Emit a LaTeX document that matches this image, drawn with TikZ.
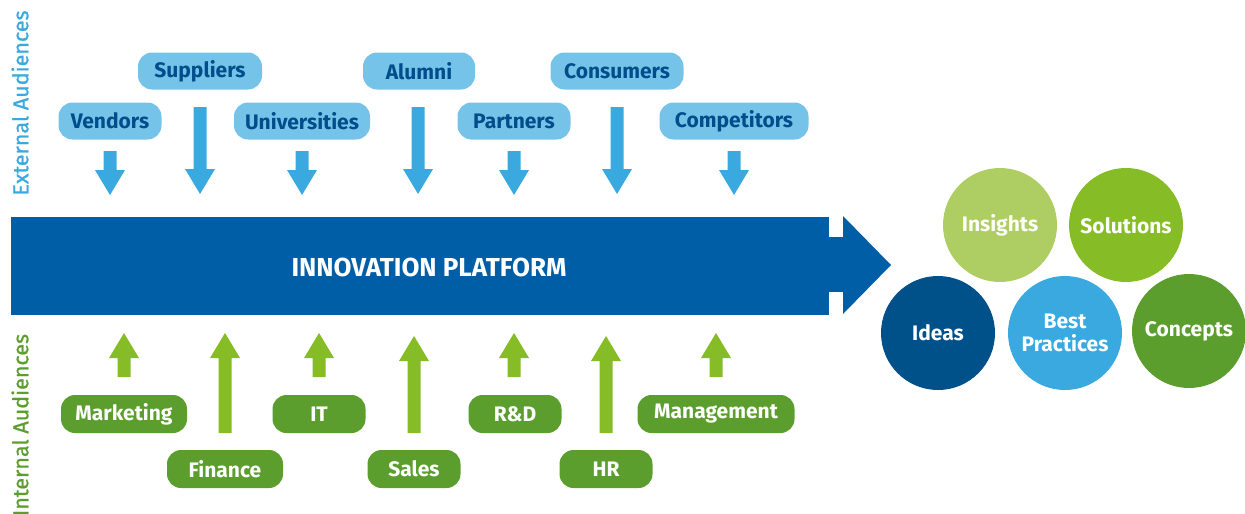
\documentclass[tikz,border=0pt]{standalone}
\usepackage{fontspec}
\setmainfont{Fira Sans}
\newfontfamily\sidefont[FakeBold=0.9]{Fira Sans}
\definecolor{extfill}{RGB}{118,195,234}
\definecolor{exttext}{RGB}{0,77,140}
\definecolor{arrblue}{RGB}{57,169,223}
\definecolor{bandblue}{RGB}{0,94,166}
\definecolor{intfill}{RGB}{92,158,46}
\definecolor{arrgreen}{RGB}{134,188,37}
\definecolor{insfill}{RGB}{174,205,98}
\definecolor{idefill}{RGB}{0,81,138}
\newcommand\dnarr[4]{\fill[arrblue] (#1-6.5,#2) -- (#1+6.5,#2) -- (#1+6.5,#3) -- (#1+15,#3) -- (#1,#4) -- (#1-15,#3) -- (#1-6.5,#3) -- cycle;}
\newcommand\uparr[4]{\fill[arrgreen] (#1-6.5,#2) -- (#1+6.5,#2) -- (#1+6.5,#3) -- (#1+15,#3) -- (#1,#4) -- (#1-15,#3) -- (#1-6.5,#3) -- cycle;}
\begin{document}
\begin{tikzpicture}[x=1pt,y=-1pt,
  ext/.style={fill=extfill, text=exttext, rounded corners=14pt, inner sep=0pt, minimum height=37pt, font=\fontsize{21}{24}\selectfont\bfseries},
  int/.style={fill=intfill, text=white, rounded corners=14pt, inner sep=0pt, minimum height=38pt, font=\fontsize{21}{24}\selectfont\bfseries},
  bubble/.style={circle, minimum size=114pt, inner sep=0pt, text=white, align=center, font=\fontsize{21}{23}\selectfont\bfseries},
  side/.style={rotate=90, inner sep=0pt, font=\fontsize{21.5}{24}\sidefont}]
\useasboundingbox (0,0) rectangle (1245,514);
% side labels
\node[side, text=arrblue] (extl) at (20,103) {External Audiences};
\node[side, text=intfill] (intl) at (20,425) {Internal Audiences};
% external boxes
\node[ext, minimum width=103pt] (ven) at (110,121) {Vendors};
\node[ext, minimum width=124pt] (sup) at (200,71) {Suppliers};
\node[ext, minimum width=136pt] (uni) at (302,121) {Universities};
\node[ext, minimum width=112pt] (alu) at (419,71) {Alumni};
\node[ext, minimum width=113pt] (par) at (514,121) {Partners};
\node[ext, minimum width=133pt] (con) at (617,71) {Consumers};
\node[ext, minimum width=149pt] (com) at (734,121) {Competitors};
% down arrows
\dnarr{110}{151}{170}{195}
\dnarr{200}{107}{169}{194}
\dnarr{302}{151}{170}{195}
\dnarr{418}{107}{169}{194}
\dnarr{514}{151}{170}{195}
\dnarr{617}{107}{169}{194}
\dnarr{734}{151}{170}{195}
% platform band
\fill[bandblue] (11,217) rectangle (829,315);
\fill[bandblue] (829,237) rectangle (844,292);
\fill[bandblue] (843,216) -- (891,265) -- (843,314) -- cycle;
\node[text=white, font=\fontsize{26}{30}\selectfont\bfseries] (plat) at (429,267) {INNOVATION PLATFORM};
% up arrows
\uparr{124}{377}{358}{333}
\uparr{225}{433}{358}{333}
\uparr{319}{377}{358}{333}
\uparr{414}{433}{361}{336}
\uparr{514}{377}{358}{333}
\uparr{606}{433}{361}{336}
\uparr{716}{377}{358}{333}
% internal boxes
\node[int, minimum width=126pt] (mkt) at (124,414) {Marketing};
\node[int, minimum width=116pt] (fin) at (225,469) {Finance};
\node[int, minimum width=93pt] (it) at (319,414) {IT};
\node[int, minimum width=93pt] (sal) at (414,469) {Sales};
\node[int, minimum width=93pt] (rd) at (515,414) {R\&D};
\node[int, minimum width=93pt] (hr) at (606,469) {HR};
\node[int, minimum width=157pt] (mgt) at (716,414) {Management};
% bubbles
\node[bubble, fill=insfill] (ins) at (1000,225) {Insights};
\node[bubble, fill=arrgreen] (sol) at (1126,225) {Solutions};
\node[bubble, fill=idefill] (ide) at (938,333) {Ideas};
\node[bubble, fill=arrblue] (bes) at (1065,333) {Best\\Practices};
\node[bubble, fill=intfill] (cpt) at (1189,331) {Concepts};
\end{tikzpicture}
\end{document}
